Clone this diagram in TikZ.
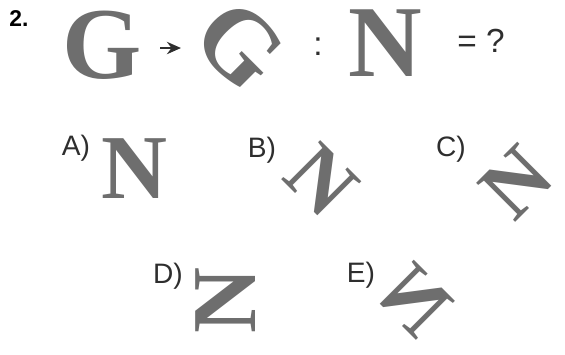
\documentclass[tikz,border=0pt]{standalone}
\usepackage{fontspec}
\setmainfont{Liberation Sans}
\newfontfamily\glyphfont{Liberation Serif}
\usetikzlibrary{arrows.meta}
\definecolor{inkgray}{HTML}{6E6E6E}
\definecolor{textgray}{HTML}{2E2E2E}
\tikzset{
  glyph/.style={inner sep=0pt, text=inkgray, font=\glyphfont\bfseries\fontsize{#1}{#1}\selectfont},
  glyph/.default=26,
  optlabel/.style={inner sep=0pt, text=textgray, font=\fontsize{8}{8}\selectfont},
}
\begin{document}
\begin{tikzpicture}
        \useasboundingbox (0,0) rectangle (5.65,-3.54);
        % Question
        \node[optlabel, text=black, font=\bfseries\fontsize{6.5}{6.5}\selectfont] (num) at (0.19,-0.19) {2.};
        \node[glyph=29] (g) at (1.02,-0.45) {G};
        \coordinate (arrtail) at (1.60,-0.48);
        \coordinate (arrhead) at (1.81,-0.48);
        \draw[-{Stealth[length=4pt, width=3.5pt]}, line width=0.7pt, textgray] (arrtail) -- (arrhead);
        \node[glyph=29, rotate=-45] (grot) at (2.40,-0.45) {G};
        \node[optlabel, font=\fontsize{9.5}{9.5}\selectfont] (colon) at (3.18,-0.47) {:};
        \node[glyph=29] (n) at (3.85,-0.43) {N};
        \node[optlabel, font=\fontsize{9.5}{9.5}\selectfont] (eq) at (4.81,-0.41) {= ?};
        % Options, top row
        \node[optlabel] (la) at (0.76,-1.48) {A)};
        \node[glyph] (na) at (1.34,-1.69) {N};
        \node[optlabel] (lb) at (2.62,-1.50) {B)};
        \node[glyph=24, rotate=-45] (nb) at (3.22,-1.80) {N};
        \node[optlabel] (lc) at (4.51,-1.49) {C)};
        \node[glyph=24, rotate=45] (nc) at (5.17,-1.82) {N};
        % Options, bottom row
        \node[optlabel] (ld) at (1.68,-2.76) {D)};
        \node[glyph, rotate=90] (nd) at (2.26,-3.00) {N};
        \node[optlabel] (le) at (3.61,-2.75) {E)};
        \node[glyph=24, rotate=-45, xscale=-1] (ne) at (4.15,-3.00) {N};
\end{tikzpicture}
\end{document}
